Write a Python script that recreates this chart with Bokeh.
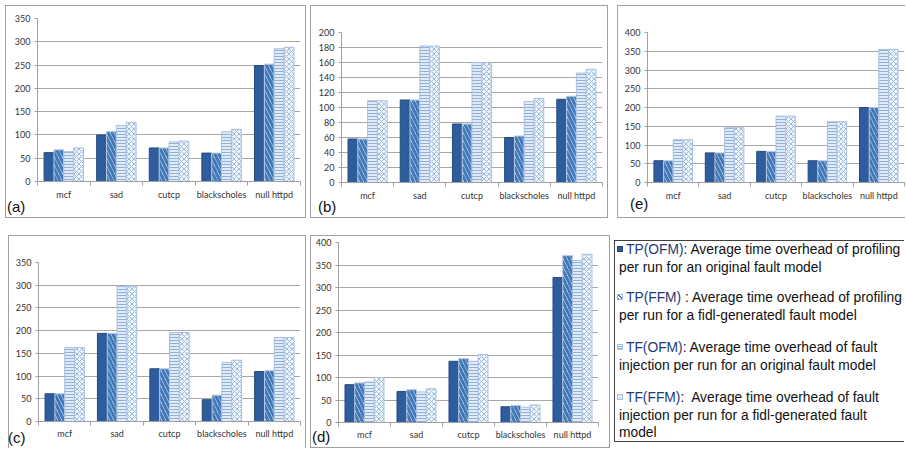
from bokeh.plotting import figure
from bokeh.layouts import row, column
from bokeh.models import FixedTicker, Range1d, ColumnDataSource, Div
from bokeh.embed import file_html
from bokeh.resources import INLINE

categories = ["mcf", "sad", "cutcp", "blackscholes", "null httpd"]
series_names = ["TP(OFM)", "TP(FFM)", "TF(OFM)", "TF(FFM)"]

# panel (a)
a_tp_ofm = [62, 100, 72, 61, 249]
a_tp_ffm = [68, 107, 72, 61, 252]
a_tf_ofm = [64, 120, 85, 107, 285]
a_tf_ffm = [72, 127, 87, 112, 288]
# panel (b)
b_tp_ofm = [58, 110, 78, 60, 111]
b_tp_ffm = [58, 110, 78, 62, 115]
b_tf_ofm = [109, 182, 160, 108, 146]
b_tf_ffm = [109, 182, 160, 112, 151]
# panel (e)
e_tp_ofm = [58, 79, 83, 58, 200]
e_tp_ffm = [58, 79, 83, 58, 200]
e_tf_ofm = [114, 146, 177, 162, 355]
e_tf_ffm = [114, 146, 177, 162, 355]
# panel (c)
c_tp_ofm = [61, 194, 116, 48, 110]
c_tp_ffm = [61, 194, 116, 58, 112]
c_tf_ofm = [163, 298, 196, 130, 185]
c_tf_ffm = [163, 298, 196, 135, 185]
# panel (d)
d_tp_ofm = [84, 69, 136, 35, 322]
d_tp_ffm = [88, 73, 142, 38, 371]
d_tf_ofm = [90, 68, 136, 34, 360]
d_tf_ffm = [100, 75, 151, 39, 374]

legend_first = [
    ": Average time overhead of profiling",
    " : Average time overhead of profiling",
    ": Average time overhead of fault",
    ":&nbsp; Average time overhead of fault",
]
legend_more = [
    ["per run for an original fault model"],
    ["per run for a fidl-generatedl fault model"],
    ["injection per run for an original fault model"],
    ["injection per run for a fidl-generated fault", "model"],
]

series_styles = [
    dict(fill_color="#2d5d9c", line_color="#24497a"),
    dict(fill_color="white", line_color="#b5c9e3", hatch_pattern="\\", hatch_color="#4378b8",
         hatch_weight=3.2, hatch_scale=8),
    dict(fill_color="#e1eaf5", line_color="#a9c0df", hatch_pattern="-", hatch_color="#8db0dc",
         hatch_weight=1, hatch_scale=3),
    dict(fill_color="#f0f5fb", line_color="#a9c0df", hatch_pattern="x", hatch_color="#9dbbe0",
         hatch_weight=1, hatch_scale=5),
]
icon_css = [
    "background:#2d5d9c;border:1px solid #1f4275;",
    "background:repeating-linear-gradient(45deg,#4a7ebb 0 1.2px,#ffffff 1.2px 2.6px);border:1px solid #9fb6d6;",
    "background:repeating-linear-gradient(0deg,#9dbbe0 0 1px,#eef3fa 1px 2.4px);border:1px solid #a9c0df;",
    "background:repeating-linear-gradient(45deg,#c5d6ec 0 1px,#f3f7fc 1px 2.2px);border:1px solid #a9c0df;",
]

BAR_W = 0.1875
OFFSETS = [-1.5 * BAR_W, -0.5 * BAR_W, 0.5 * BAR_W, 1.5 * BAR_W]
TICK_FONT = "Lato"
BOX = "1px solid #a0a0a0"
FIG_H = 213


def make_panel(vals, tick_max, step, tick_px, width, lb, rb, tb, bb, standoff, styles, vborders=2):
    n = len(categories)
    frame_h = FIG_H - vborders - tb - bb
    y_end = tick_max * frame_h / tick_px
    p = figure(width=width, height=FIG_H, output_backend="svg", toolbar_location=None,
               title=None, x_range=Range1d(0, n), y_range=Range1d(0, y_end),
               min_border_left=lb, min_border_right=rb, min_border_top=tb,
               min_border_bottom=bb, styles=styles, margin=(0, 0, 0, 0))
    p.outline_line_color = None
    p.background_fill_color = "white"
    p.border_fill_color = "white"
    for k, (ys, st) in enumerate(zip(vals, series_styles)):
        src = ColumnDataSource(dict(x=[i + 0.5 + OFFSETS[k] for i in range(n)], top=ys))
        p.vbar(x="x", top="top", bottom=0, width=BAR_W, source=src, **st)
    xt = FixedTicker(ticks=[i + 0.5 for i in range(n)], minor_ticks=list(range(n + 1)))
    p.xaxis.ticker = xt
    p.xaxis.major_label_overrides = {i + 0.5: c for i, c in enumerate(categories)}
    p.xaxis.major_tick_line_color = None
    p.xaxis.major_tick_out = 0
    p.xaxis.major_tick_in = 0
    p.xaxis.minor_tick_line_color = "#a0a0a0"
    p.xaxis.minor_tick_out = 4
    p.xaxis.minor_tick_in = 0
    p.xaxis.major_label_standoff = standoff
    yt = FixedTicker(ticks=list(range(0, tick_max + 1, step)), minor_ticks=[])
    p.yaxis.ticker = yt
    p.ygrid.ticker = yt
    p.yaxis.bounds = (0, tick_max)
    p.yaxis.major_tick_out = 3
    p.yaxis.major_tick_in = 0
    p.yaxis.major_tick_line_color = "#a0a0a0"
    p.yaxis.minor_tick_line_color = None
    p.yaxis.major_label_standoff = 4
    for ax in (p.xaxis, p.yaxis):
        ax.axis_line_color = "#a0a0a0"
        ax.major_label_text_font = TICK_FONT
        ax.major_label_text_font_size = "9px"
        ax.major_label_text_color = "#333333"
    p.xgrid.grid_line_color = None
    p.ygrid.grid_line_color = "#a8a8a8"
    return p


def tag_div(tag, left, top):
    return Div(text=tag, width=30, height=18, margin=(0, 0, 0, 0),
               styles={"position": "absolute", "left": f"{left}px", "top": f"{top}px",
                       "font-family": "'Liberation Sans', Arial, sans-serif", "font-size": "15px",
                       "line-height": "18px", "color": "#111111"})


pa = make_panel([a_tp_ofm, a_tp_ffm, a_tf_ofm, a_tf_ffm], 350, 50, 161, 301,
                31, 7, 12, 38, 3, {"border": BOX})
pb = make_panel([b_tp_ofm, b_tp_ffm, b_tf_ofm, b_tf_ffm], 200, 20, 148, 298,
                30, 7, 26, 37, 3, {"border": BOX})
pe = make_panel([e_tp_ofm, e_tp_ffm, e_tf_ofm, e_tf_ffm], 400, 50, 148, 288,
                29, 2, 26, 37, 3, {"border": BOX, "border-right": "none"})
pc = make_panel([c_tp_ofm, c_tp_ffm, c_tf_ofm, c_tf_ffm], 350, 50, 158, 298,
                29, 7, 26, 28, 2, {"border": BOX, "border-bottom": "none"}, vborders=1)
pd = make_panel([d_tp_ofm, d_tp_ffm, d_tf_ofm, d_tf_ffm], 400, 50, 178, 300,
                27, 13, 6, 27, 2, {"border": BOX})

col_a = column(pa, tag_div("(a)", 2, 193), spacing=0)
col_b = column(pb, tag_div("(b)", 8, 193), spacing=0)
col_e = column(pe, tag_div("(e)", 13, 190), spacing=0, margin=(0, 0, 0, 5))
col_c = column(pc, tag_div("(c)", 0, 194), spacing=0)
col_d = column(pd, tag_div("(d)", 2, 193), spacing=0)

# legend as html
LW, LH = 291, FIG_H
entry_centers = [15, 63, 113, 163]
line_h = 17.5
parts = [f'<div style="position:relative;width:{LW}px;height:{LH}px;overflow:hidden;'
         "font-family:'Liberation Sans',Arial,sans-serif;font-size:13.8px;color:#111111;\">",
         f'<div style="position:absolute;left:0px;top:5px;width:{LW - 1}px;height:202px;'
         'border:1px solid #404040;border-right:none;"></div>']
for k in range(len(series_names)):
    yc = entry_centers[k]
    parts.append(f'<div style="position:absolute;left:3px;top:{yc - 4}px;width:6px;height:6px;'
                 f'{icon_css[k]}"></div>')
    parts.append(f'<div style="position:absolute;left:12px;top:{yc - 9}px;line-height:18px;'
                 f'white-space:nowrap;"><span style="color:#1f3a78">{series_names[k]}</span>'
                 f'{legend_first[k]}</div>')
    for j, txt in enumerate(legend_more[k]):
        parts.append(f'<div style="position:absolute;left:5px;top:{yc - 9 + (j + 1) * line_h:.1f}px;'
                     f'line-height:18px;white-space:nowrap;">{txt}</div>')
parts.append("</div>")
leg = Div(text="".join(parts), width=LW, height=LH, margin=(0, 0, 0, 0))

layout = column(row(col_a, col_b, col_e, spacing=4),
                row(col_c, col_d, leg, spacing=4, margin=(0, 0, 0, 3)),
                spacing=17, margin=(5, 0, 0, 5))

open("out.html", "w").write(file_html(layout, INLINE))
